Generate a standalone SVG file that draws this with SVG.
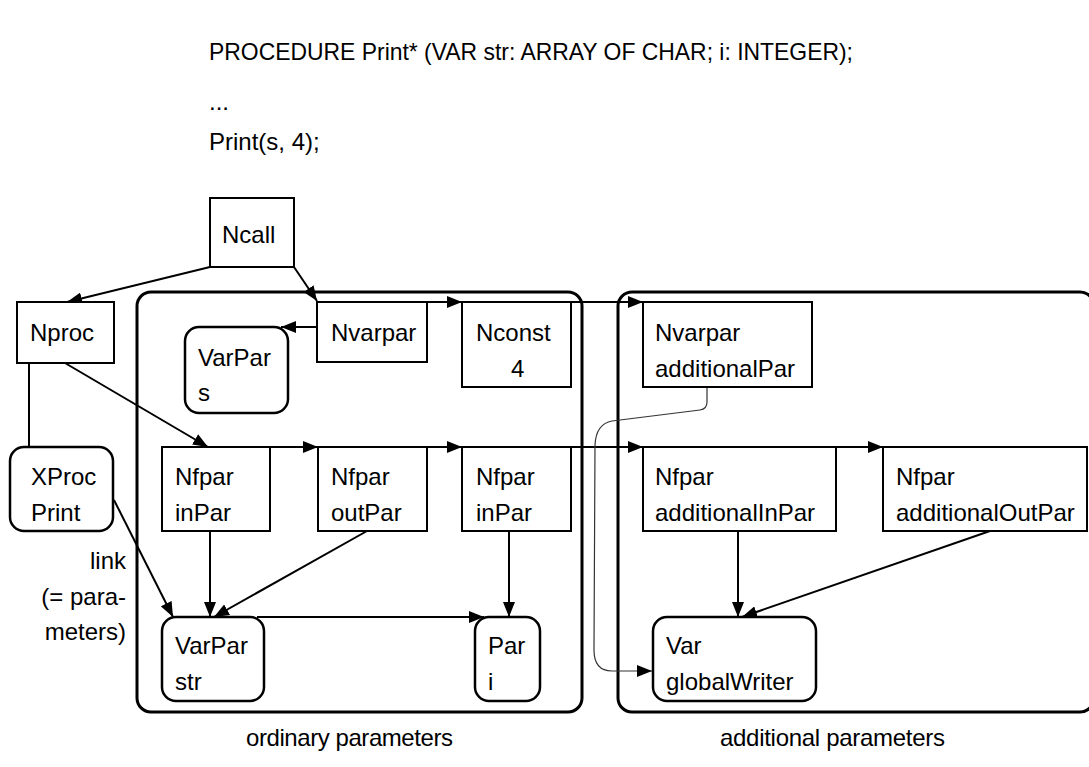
<svg xmlns="http://www.w3.org/2000/svg" width="1089" height="767" viewBox="0 0 1089 767">
  <style>
    text { font-family: "Liberation Sans", Arial, sans-serif; font-size: 24px; fill: #000; }
    .box { fill: #fff; stroke: #000; stroke-width: 2; }
    .rbox { fill: #fff; stroke: #000; stroke-width: 2.5; }
    .group { fill: none; stroke: #000; stroke-width: 3; }
    .edge { fill: none; stroke: #000; stroke-width: 2; }
    .thin { fill: none; stroke: #333; stroke-width: 1.2; }
  </style>
  <defs>
    <marker id="ah" viewBox="0 0 15 12" refX="15" refY="6" markerWidth="15" markerHeight="12" markerUnits="userSpaceOnUse" orient="auto">
      <path d="M0,0 L15,6 L0,12 z" fill="#000"/>
    </marker>
  </defs>
  <rect width="1089" height="767" fill="#fff"/>

  <!-- source fragment -->
  <g id="source">
    <text x="209" y="60" textLength="644" lengthAdjust="spacingAndGlyphs">PROCEDURE Print* (VAR str: ARRAY OF CHAR; i: INTEGER);</text>
    <text x="209" y="110">...</text>
    <text x="209" y="150">Print(s, 4);</text>
  </g>

  <!-- parameter groups -->
  <g id="ordinary-group">
    <rect class="group" x="137" y="292" width="445" height="420" rx="14"/>
    <text x="246" y="746" textLength="207" lengthAdjust="spacing">ordinary parameters</text>
  </g>
  <g id="additional-group">
    <rect class="group" x="618" y="292" width="476" height="420" rx="14"/>
    <text x="720" y="746" textLength="225" lengthAdjust="spacing">additional parameters</text>
  </g>

  <!-- connectors -->
  <g id="connectors">
    <path class="edge" d="M210,267 L67,302" marker-end="url(#ah)"/>
    <path class="edge" d="M294,267 L317,301" marker-end="url(#ah)"/>
    <path class="edge" d="M317,327 L281,327" marker-end="url(#ah)"/>
    <path class="edge" d="M427,302 L462,302" marker-end="url(#ah)"/>
    <path class="edge" d="M571,302 L643,302" marker-end="url(#ah)"/>
    <path class="edge" d="M29,352 L29,447"/>
    <path class="edge" d="M65,363 L208,447" marker-end="url(#ah)"/>
    <path class="edge" d="M270,447 L318,447" marker-end="url(#ah)"/>
    <path class="edge" d="M427,447 L462,447" marker-end="url(#ah)"/>
    <path class="edge" d="M571,447 L643,447" marker-end="url(#ah)"/>
    <path class="edge" d="M836,447 L883,447" marker-end="url(#ah)"/>
    <path class="edge" d="M210,531 L210,617" marker-end="url(#ah)"/>
    <path class="edge" d="M367,531 L214,617" marker-end="url(#ah)"/>
    <path class="edge" d="M114,500 L173,617" marker-end="url(#ah)"/>
    <path class="edge" d="M257,617 L484,617" marker-end="url(#ah)"/>
    <path class="edge" d="M509,531 L509,617" marker-end="url(#ah)"/>
    <path class="edge" d="M738,531 L738,617" marker-end="url(#ah)"/>
    <path class="edge" d="M990,531 L742,617" marker-end="url(#ah)"/>
    <path class="thin" d="M707,387 V402 Q707,409 700,410 L612,421 Q596,424 595,445 L594,650 Q594,671 612,671 L652,671" marker-end="url(#ah)"/>
  </g>

  <!-- nodes -->
  <g id="ncall">
    <rect class="box" x="210" y="198" width="84" height="69"/>
    <text x="222" y="243">Ncall</text>
  </g>
  <g id="nproc">
    <rect class="box" x="17" y="302" width="97" height="61"/>
    <text x="30" y="341">Nproc</text>
  </g>
  <g id="xproc-print">
    <rect class="rbox" x="10" y="447" width="103" height="84" rx="14"/>
    <text x="31" y="485">XProc</text>
    <text x="31" y="521">Print</text>
  </g>
  <g id="link-label">
    <text x="126" y="569" text-anchor="end">link</text>
    <text x="126" y="605" text-anchor="end">(= para-</text>
    <text x="126" y="640" text-anchor="end">meters)</text>
  </g>
  <g id="nvarpar">
    <rect class="box" x="317" y="302" width="110" height="60"/>
    <text x="331" y="341">Nvarpar</text>
  </g>
  <g id="varpar-s">
    <rect class="rbox" x="185" y="327" width="103" height="86" rx="14"/>
    <text x="198" y="366">VarPar</text>
    <text x="198" y="401">s</text>
  </g>
  <g id="nconst">
    <rect class="box" x="462" y="302" width="109" height="85"/>
    <text x="476" y="341">Nconst</text>
    <text x="511" y="377">4</text>
  </g>
  <g id="nfpar-inpar">
    <rect class="box" x="162" y="447" width="108" height="84"/>
    <text x="175" y="485">Nfpar</text>
    <text x="175" y="521">inPar</text>
  </g>
  <g id="nfpar-outpar">
    <rect class="box" x="318" y="447" width="109" height="84"/>
    <text x="331" y="485">Nfpar</text>
    <text x="331" y="521">outPar</text>
  </g>
  <g id="nfpar-inpar-2">
    <rect class="box" x="462" y="447" width="109" height="84"/>
    <text x="476" y="485">Nfpar</text>
    <text x="476" y="521">inPar</text>
  </g>
  <g id="varpar-str">
    <rect class="rbox" x="162" y="617" width="102" height="84" rx="14"/>
    <text x="175" y="654">VarPar</text>
    <text x="175" y="690">str</text>
  </g>
  <g id="par-i">
    <rect class="rbox" x="475" y="617" width="65" height="84" rx="14"/>
    <text x="488" y="654">Par</text>
    <text x="488" y="690">i</text>
  </g>
  <g id="nvarpar-additional">
    <rect class="box" x="643" y="302" width="169" height="85"/>
    <text x="655" y="341">Nvarpar</text>
    <text x="655" y="377">additionalPar</text>
  </g>
  <g id="nfpar-additional-in">
    <rect class="box" x="643" y="447" width="193" height="84"/>
    <text x="655" y="485">Nfpar</text>
    <text x="655" y="521">additionalInPar</text>
  </g>
  <g id="nfpar-additional-out">
    <rect class="box" x="883" y="447" width="204" height="84"/>
    <text x="896" y="485">Nfpar</text>
    <text x="896" y="521">additionalOutPar</text>
  </g>
  <g id="var-globalwriter">
    <rect class="rbox" x="653" y="617" width="163" height="84" rx="14"/>
    <text x="666" y="654">Var</text>
    <text x="666" y="690">globalWriter</text>
  </g>
</svg>
